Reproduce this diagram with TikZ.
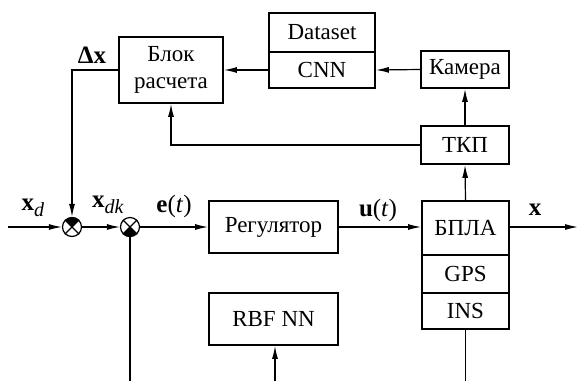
\documentclass[tikz,border=0pt]{standalone}
\usepackage{fontspec}
\setmainfont{Liberation Serif}
\usetikzlibrary{arrows.meta}
\begin{document}
\begin{tikzpicture}[x=1pt,y=-1pt,
  font=\fontsize{23}{27}\selectfont,
  box/.style={draw, line width=1.8pt, inner sep=0pt, align=center},
  conn/.style={line width=1.2pt},
  arr/.style={conn, -{Latex[length=13pt,width=6pt]}},
  sumj/.style={circle, draw, line width=1.2pt, minimum size=19pt, inner sep=0pt},
  lbl/.style={font=\fontsize{25}{27}\selectfont, inner sep=0pt}]
\useasboundingbox (0,0) rectangle (578,381);
\newcommand{\sbs}[1]{\raisebox{-6pt}{\fontsize{20}{20}\selectfont\textit{#1}}}
% boxes
\node[box, minimum width=104pt, minimum height=66pt] (blok) at (171,70) {Блок\\расчета};
\node[box, minimum width=106pt, minimum height=39pt] (data) at (322,32.5) {Dataset};
\node[box, minimum width=106pt, minimum height=36pt] (cnn) at (322,70) {CNN};
\node[box, minimum width=88pt, minimum height=37pt] (cam) at (465,69.5) {Камера};
\node[box, minimum width=88pt, minimum height=38pt] (tkp) at (465,145) {ТКП};
\node[box, minimum width=129pt, minimum height=52pt] (reg) at (273.5,227) {Регулятор};
\node[box, minimum width=129pt, minimum height=52pt] (rbf) at (273.5,319) {RBF NN};
\node[box, minimum width=87pt, minimum height=54pt] (bpla) at (465.5,228) {БПЛА};
\node[box, minimum width=87pt, minimum height=38pt] (gps) at (465.5,274) {GPS};
\node[box, minimum width=87pt, minimum height=36pt] (ins) at (465.5,311) {INS};
% summing junctions
\node[sumj] (s1) at (72,227) {};
\node[sumj] (s2) at (130,227) {};
\fill (s1.center) -- (s1.45) arc[start angle=45, end angle=135, radius=9.5pt] -- cycle;
\fill (s2.center) -- (s2.225) arc[start angle=225, end angle=315, radius=9.5pt] -- cycle;
\foreach \s in {s1,s2}{
  \draw[conn] (\s.45) -- (\s.225);
  \draw[conn] (\s.135) -- (\s.315);
}
% free ends
\coordinate (in) at (8,227);
\coordinate (out) at (578,227);
\coordinate (b1) at (130,381);
\coordinate (b2) at (275,381);
\coordinate (b3) at (465.5,381);
% connectors
\draw[arr] (in) -- (s1.west);
\draw[arr] (s1.east) -- (s2.west);
\draw[arr] (s2.east) -- (reg.west);
\draw[arr] (reg.east) -- (reg.east -| bpla.west);
\draw[arr] (bpla.east |- out) -- (out);
\draw[arr] (bpla.north) -- (tkp.south);
\draw[arr] (tkp.north) -- (cam.south);
\draw[arr] (cam.west) -- (cnn.east);
\draw[arr] (cnn.west) -- (blok.east);
\draw[arr] (tkp.west) -| (blok.south);
\draw[arr] (blok.west) -| (s1.north);
\draw[conn] (s2.south) -- (b1);
\draw[arr] (b2) -- (rbf.south -| b2);
\draw[conn] (ins.south) -- (b3);
% labels
\node[lbl] (ldx) at (92,55) {\textbf{Δx}};
\node[lbl] (lxd) at (33,208) {\textbf{x}\sbs{d}};
\node[lbl] (lxdk) at (108,205) {\textbf{x}\sbs{dk}};
\node[lbl] (let) at (174,206) {\textbf{e}(\textit{t})};
\node[lbl] (lut) at (378,210) {\textbf{u}(\textit{t})};
\node[lbl] (lx) at (535,210) {\textbf{x}};
\end{tikzpicture}
\end{document}
